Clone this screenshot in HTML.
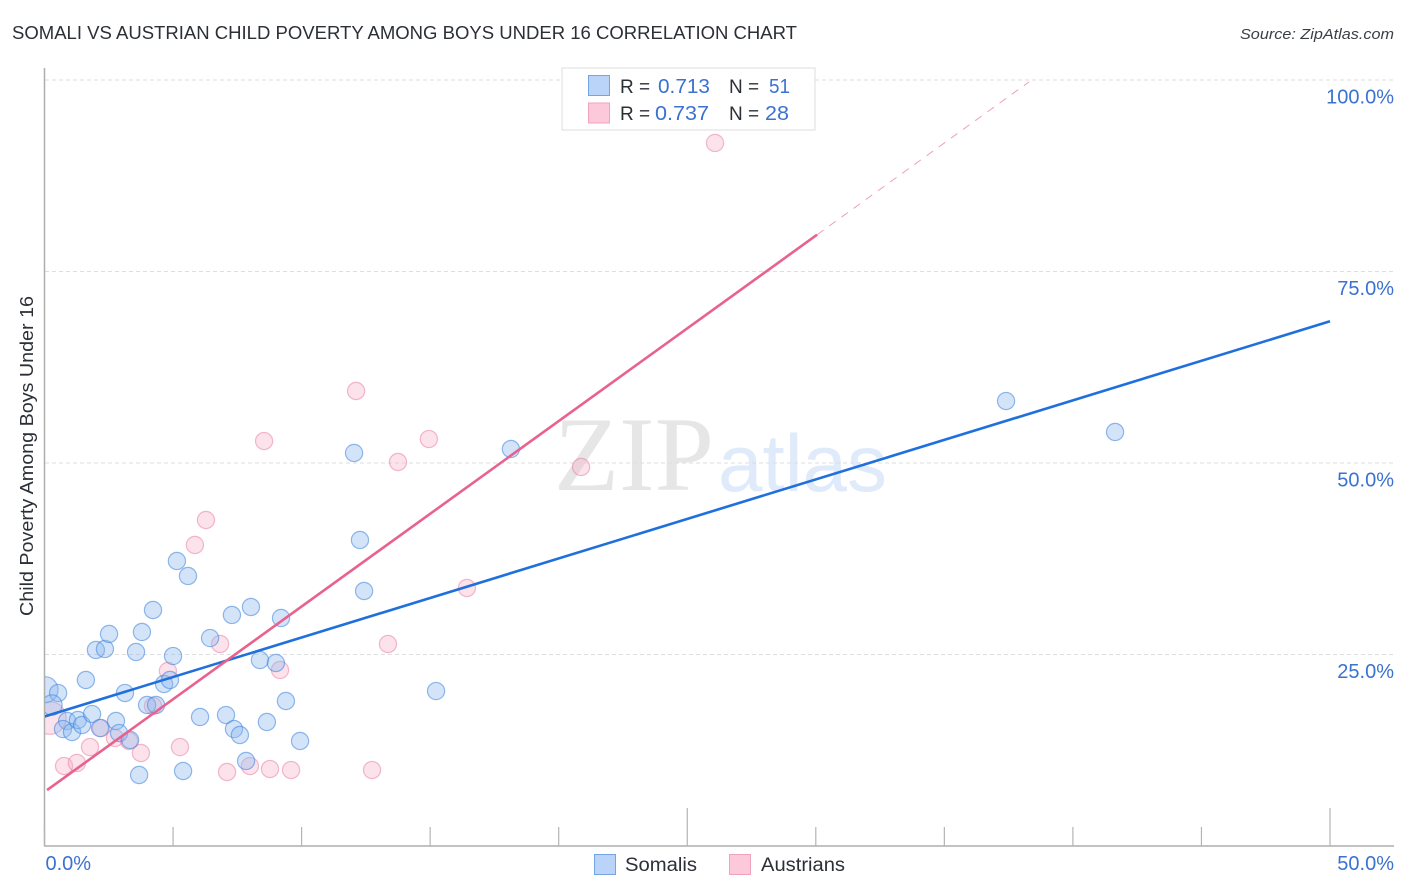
<!DOCTYPE html>
<html lang="en">
<head>
<meta charset="utf-8">
<title>Somali vs Austrian Child Poverty Among Boys Under 16 Correlation Chart</title>
<style>
html,body{margin:0;padding:0;background:#fff;width:1406px;height:892px;overflow:hidden}
svg{display:block;font-family:"Liberation Sans",sans-serif}
</style>
</head>
<body>
<svg id="chart" width="1406" height="892" viewBox="0 0 1406 892" xmlns="http://www.w3.org/2000/svg">
  <defs>
    <clipPath id="plot-clip"><rect x="45" y="60" width="1349" height="786"/></clipPath>
  </defs>
  <rect x="0" y="0" width="1406" height="892" fill="#fff"/>
  <text x="12" y="39" font-size="18.5" fill="#2b2f36" textLength="785" lengthAdjust="spacingAndGlyphs">SOMALI VS AUSTRIAN CHILD POVERTY AMONG BOYS UNDER 16 CORRELATION CHART</text>
  <text x="1394" y="39" font-size="15" font-style="italic" fill="#3a3f47" text-anchor="end" textLength="154" lengthAdjust="spacingAndGlyphs">Source: ZipAtlas.com</text>

  <g>
    <text x="554" y="490" font-family="'Liberation Serif',serif" font-size="106" fill="#e6e6e6" textLength="160" lengthAdjust="spacingAndGlyphs">ZIP</text>
    <text x="718" y="491" font-size="81" fill="#dfeafa" textLength="169" lengthAdjust="spacingAndGlyphs">atlas</text>
  </g>

  <g id="grid"></g>
  <g id="axes"></g>
  <g id="marks" clip-path="url(#plot-clip)"></g>
  <g id="lines" clip-path="url(#plot-clip)"></g>

  <text transform="translate(33,456) rotate(-90)" font-size="18.5" fill="#2b2f36" text-anchor="middle" textLength="320" lengthAdjust="spacingAndGlyphs">Child Poverty Among Boys Under 16</text>

  <g>
    <rect x="562" y="68" width="253" height="62" fill="#fff" stroke="#dcdcdc" stroke-width="1"/>
    <rect x="588.500" y="75.500" width="21" height="20" fill="#b9d4f8" stroke="#73a5e2" stroke-width="1"/>
    <rect x="588.500" y="103" width="21" height="20" fill="#fbc9da" stroke="#f0a3bc" stroke-width="1"/>
    <text x="620" y="93" font-size="19" fill="#2b2f36">R =</text>
    <text x="658" y="93" font-size="20.500" fill="#3b72d0" textLength="52" lengthAdjust="spacingAndGlyphs">0.713</text>
    <text x="729" y="93" font-size="19" fill="#2b2f36">N =</text>
    <text x="769" y="93" font-size="20.500" fill="#3b72d0" textLength="21" lengthAdjust="spacingAndGlyphs">51</text>
    <text x="620" y="120" font-size="19" fill="#2b2f36">R =</text>
    <text x="655" y="120" font-size="20.500" fill="#3b72d0" textLength="54" lengthAdjust="spacingAndGlyphs">0.737</text>
    <text x="729" y="120" font-size="19" fill="#2b2f36">N =</text>
    <text x="765" y="120" font-size="20.500" fill="#3b72d0" textLength="24" lengthAdjust="spacingAndGlyphs">28</text>
  </g>

  <g>
    <g>
      <rect x="594.500" y="854.500" width="21" height="20" fill="#b9d4f8" stroke="#73a5e2" stroke-width="1"/>
      <text x="625" y="871" font-size="19" fill="#2b2f36" textLength="72" lengthAdjust="spacingAndGlyphs">Somalis</text>
    </g>
    <g>
      <rect x="729.500" y="854.500" width="21" height="20" fill="#fbc9da" stroke="#f0a3bc" stroke-width="1"/>
      <text x="761" y="871" font-size="19" fill="#2b2f36" textLength="84" lengthAdjust="spacingAndGlyphs">Austrians</text>
    </g>
  </g>
</svg>
<script>
const somaliX = [0.02,0.53,1.61,0.29,0.88,0.72,1.07,1.30,1.46,1.85,2.00,2.35,2.51,2.16,2.78,2.90,3.13,3.33,3.56,3.79,4.22,3.68,3.99,4.34,4.65,4.88,5.00,5.15,5.58,5.39,6.05,6.44,7.06,7.29,7.37,7.60,7.84,8.03,8.38,8.65,9.00,9.20,9.39,9.94,12.04,12.27,12.43,15.23,18.14,37.40,41.64];
const somaliY = [20.40,19.97,21.67,18.41,16.32,15.27,14.88,16.45,15.80,17.23,25.59,25.72,27.68,15.40,16.32,14.75,19.97,13.84,25.33,27.94,30.81,9.27,18.41,18.41,21.15,21.67,24.80,37.21,35.25,9.79,16.84,27.15,17.10,30.16,15.27,14.49,11.10,31.20,24.28,16.19,23.89,29.77,18.93,13.71,51.31,39.95,33.29,20.23,51.83,58.09,54.05];
const somaliWeight = [2.3,1,1,1.4,1,1,1,1,1,1,1,1,1,1,1,1,1,1,1,1,1,1,1,1,1,1,1,1,1,1,1,1,1,1,1,1,1,1,1,1,1,1,1,1,1,1,1,1,1,1,1];
const austrianX = [0.21,0.76,1.26,1.77,2.20,2.74,3.29,3.75,4.22,4.80,5.27,5.85,6.28,6.83,7.10,7.99,8.54,8.77,9.16,9.59,12.12,12.74,13.36,13.75,14.95,16.43,20.87,26.08];
const austrianY = [16.71,10.44,10.84,12.92,15.40,14.10,13.71,12.14,18.28,22.85,12.92,39.30,42.56,26.37,9.66,10.44,52.87,10.05,22.98,9.92,59.40,9.92,26.37,50.13,53.13,33.68,49.48,91.78];
const austrianWeight = [3.6,1,1,1,1,1,1,1,1,1,1,1,1,1,1,1,1,1,1,1,1,1,1,1,1,1,1,1];
const somaliTrend = [16.9, 68.5];
const austrianTrend = [7.3, 79.8];
const austrianTrendEndX = [0.1, 30.05, 38.3];
const yTicks = [25, 50, 75, 100];
const yTickLabels = ["25.0%", "50.0%", "75.0%", "100.0%"];
const xTicks = [0, 5, 10, 15, 20, 25, 30, 35, 40, 45, 50];
const xMajorTicks = [25, 50];
const xTickLabels = ["0.0%", "50.0%"];

const NS = "http://www.w3.org/2000/svg";
const xScale = v => 44.5 + v * 25.71;
const yScale = v => 846 - v * 7.66;
const pointRadius = w => 8.6 * Math.sqrt(w);

function mk(parent, tag, attrs, text) {
  const el = document.createElementNS(NS, tag);
  for (const k in attrs) el.setAttribute(k, attrs[k]);
  if (text !== undefined) el.textContent = text;
  parent.appendChild(el);
  return el;
}

const gridG = document.getElementById("grid");
const axesG = document.getElementById("axes");
const marksG = document.getElementById("marks");
const linesG = document.getElementById("lines");

yTicks.forEach((t, i) => {
  const line = mk(gridG, "line", {x1: 45, x2: 1394, y1: yScale(t), y2: yScale(t), stroke: "#dedede", "stroke-width": 1, "stroke-dasharray": "4 3"});
  
  
  const lab = mk(axesG, "text", {x: 1394, y: yScale(t) + 23.5, "font-size": 20, fill: "#3b72d0", "text-anchor": "end"}, yTickLabels[i]);
  
  
});

const yAxis = mk(axesG, "line", {x1: 44.5, x2: 44.5, y1: 68, y2: 846, stroke: "#aeaeae", "stroke-width": 1.5});


const xAxis = mk(axesG, "line", {x1: 44, x2: 1394, y1: 846, y2: 846, stroke: "#aeaeae", "stroke-width": 1.5});



xTicks.forEach(t => {
  const top = xMajorTicks.includes(t) ? 808 : 827;
  const tick = mk(axesG, "line", {x1: xScale(t), x2: xScale(t), y1: top, y2: 846, stroke: "#b4b4b4", "stroke-width": 1.2});
  
  
});

const xLabelLeft = mk(axesG, "text", {x: xScale(xTicks[0]) + 1, y: 870, "font-size": 20, fill: "#3b72d0"}, xTickLabels[0]);


const xLabelRight = mk(axesG, "text", {x: 1394, y: 870, "font-size": 20, fill: "#3b72d0", "text-anchor": "end"}, xTickLabels[1]);



austrianX.forEach((x, i) => {
  const c = mk(marksG, "circle", {cx: xScale(x), cy: yScale(austrianY[i]), r: pointRadius(austrianWeight[i]), fill: "rgba(248,175,198,.36)", stroke: "rgba(232,120,160,.5)", "stroke-width": 1.2});
  
  
});

somaliX.forEach((x, i) => {
  const c = mk(marksG, "circle", {cx: xScale(x), cy: yScale(somaliY[i]), r: pointRadius(somaliWeight[i]), fill: "rgba(140,185,240,.38)", stroke: "rgba(60,130,220,.55)", "stroke-width": 1.2});
  
  
});

const somaliLine = mk(linesG, "line", {x1: xScale(0), y1: yScale(somaliTrend[0]), x2: xScale(50), y2: yScale(somaliTrend[1]), stroke: "#1f6fdc", "stroke-width": 2.6});



const aSlope = (austrianTrend[1] - austrianTrend[0]) / (austrianTrendEndX[1] - austrianTrendEndX[0]);
const aAt = x => austrianTrend[0] + (x - austrianTrendEndX[0]) * aSlope;
const austrianLine = mk(linesG, "line", {x1: xScale(austrianTrendEndX[0]), y1: yScale(aAt(austrianTrendEndX[0])), x2: xScale(austrianTrendEndX[1]), y2: yScale(aAt(austrianTrendEndX[1])), stroke: "#e8628f", "stroke-width": 2.6});


const austrianExt = mk(linesG, "line", {x1: xScale(austrianTrendEndX[1]), y1: yScale(aAt(austrianTrendEndX[1])), x2: xScale(austrianTrendEndX[2]), y2: yScale(aAt(austrianTrendEndX[2])), stroke: "#eda0ba", "stroke-width": 1, "stroke-dasharray": "8 7"});


</script>
</body>
</html>
